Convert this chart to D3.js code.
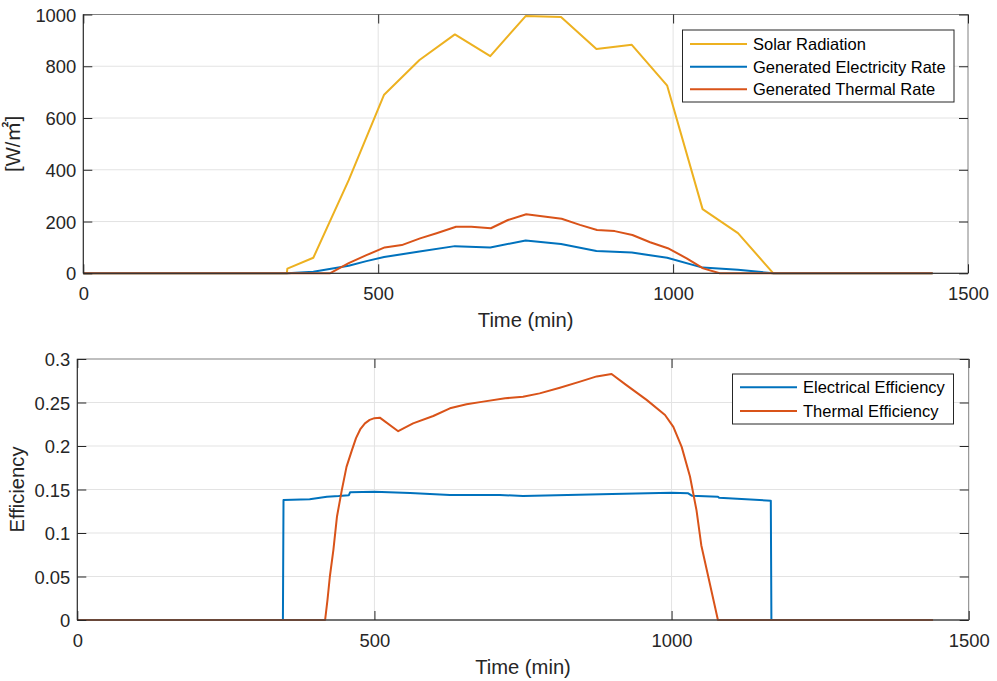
<!DOCTYPE html>
<html>
<head>
<meta charset="utf-8">
<script src="https://cdn.jsdelivr.net/npm/d3@7/dist/d3.min.js"></script>
<style>
  html, body { margin: 0; padding: 0; background: #fff; }
  svg { display: block; font-family: "Liberation Sans", Arial, "Noto Sans CJK SC", sans-serif; }
</style>
</head>
<body>
<svg id="chart" width="997" height="681"></svg>
<script>
// ---------- Data ----------
// Top panel
const solarTime = [0, 345, 346, 390, 450, 510, 570, 630, 690, 750, 810, 870, 930, 990, 1050, 1110, 1170, 1440];
const solarValue = [0, 0, 18, 60, 360, 690, 824, 923, 839, 994, 990, 867, 883, 725, 248, 155, 0, 0];

const elecTime = [0, 346, 390, 420, 450, 480, 510, 570, 630, 690, 750, 810, 870, 930, 990, 1050, 1110, 1170, 1440];
const elecValue = [0, 0, 6, 18, 29, 47, 63, 84, 105, 100, 127, 113, 86, 80, 60, 22, 14, 0, 0];

const thermTime = [0, 418, 450, 480, 511, 540, 571, 599, 632, 658, 691, 720, 751, 811, 842, 871, 901, 931, 961, 991, 1023, 1051, 1079, 1440];
const thermValue = [0, 0, 39, 70, 100, 109, 135, 155, 180, 180, 174, 206, 228, 211, 187, 167, 163, 148, 120, 97, 58, 19, 0, 0];

// Bottom panel
const elecEffTime = [0, 346, 347, 391, 420, 440, 457, 459, 500, 560, 627, 711, 750, 900, 1000, 1028, 1034, 1078, 1080, 1167, 1168, 1440];
const elecEffValue = [0, 0, 0.138, 0.1387, 0.1417, 0.1425, 0.1435, 0.1468, 0.1475, 0.146, 0.1437, 0.1437, 0.1425, 0.1448, 0.1464, 0.1456, 0.1429, 0.1418, 0.1406, 0.1372, 0, 0];

const thermEffTime = [0, 417, 421, 425, 431, 437, 445, 453, 462, 469, 476, 484, 492, 500, 509, 540, 565, 599, 627, 655, 683, 720, 750, 778, 812, 846, 874, 899, 924, 958, 989, 1003, 1017, 1031, 1042, 1050, 1078, 1440];
const thermEffValue = [0, 0, 0.023, 0.050, 0.081, 0.119, 0.149, 0.176, 0.195, 0.209, 0.219, 0.226, 0.230, 0.232, 0.2326, 0.217, 0.226, 0.2345, 0.2433, 0.248, 0.251, 0.2548, 0.2567, 0.2605, 0.267, 0.274, 0.280, 0.2828, 0.270, 0.253, 0.2356, 0.222, 0.199, 0.165, 0.126, 0.086, 0, 0];

const xTicks = [0, 500, 1000, 1500];
const yTicksTop = [0, 200, 400, 600, 800, 1000];
const yTicksBottom = [0, 0.05, 0.1, 0.15, 0.2, 0.25, 0.3];

const topLegend = ["Solar Radiation", "Generated Electricity Rate", "Generated Thermal Rate"];
const bottomLegend = ["Electrical Efficiency", "Thermal Efficiency"];

const C_BLUE = "#0072BD", C_ORANGE = "#D95319", C_YELLOW = "#EDB120";

const zip = (t, v) => t.map((d, i) => [d, v[i]]);

const svg = d3.select("#chart");

function panel(opts) {
  const { left, right, top, bottom, yDomain, yTicks, yFmt, yLabel, yLabelX, series, legend } = opts;
  const x = d3.scaleLinear().domain([0, 1500]).range([left, right]);
  const y = d3.scaleLinear().domain(yDomain).range([bottom, top]);
  const g = svg.append("g");

  // grid
  g.append("g").selectAll("line.gx").data(xTicks.slice(1, -1)).join("line")
    .attr("x1", d => x(d)).attr("x2", d => x(d)).attr("y1", top).attr("y2", bottom)
    .attr("stroke", "#e3e3e3").attr("stroke-width", 1);
  g.append("g").selectAll("line.gy").data(yTicks.slice(1, -1)).join("line")
    .attr("x1", left).attr("x2", right).attr("y1", d => y(d)).attr("y2", d => y(d))
    .attr("stroke", "#e3e3e3").attr("stroke-width", 1);

  // lines
  const line = d3.line().x(d => x(d[0])).y(d => y(d[1]));
  series.forEach(s => {
    g.append("path").datum(s.data).attr("d", line)
      .attr("fill", "none").attr("stroke", s.color).attr("stroke-width", 2)
      .attr("stroke-linejoin", "round");
  });

  // box
  g.append("rect").attr("x", left).attr("y", top).attr("width", right - left).attr("height", bottom - top)
    .attr("fill", "none").attr("stroke", "#808080").attr("stroke-width", 1);
  g.append("line").attr("x1", left).attr("x2", left).attr("y1", top).attr("y2", bottom).attr("stroke", "#262626");
  g.append("line").attr("x1", left).attr("x2", right).attr("y1", bottom).attr("y2", bottom).attr("stroke", "#262626");

  // axes using d3 axis (inner ticks)
  const xAxis = d3.axisBottom(x).tickValues(xTicks).tickSize(-9).tickPadding(0).tickFormat(d3.format("d"));
  const xa = g.append("g").attr("transform", `translate(0,${bottom})`).call(xAxis);
  xa.select(".domain").remove();
  xa.selectAll(".tick line").attr("stroke", "#262626");
  xa.selectAll(".tick text").attr("y", 27).attr("dy", 0).attr("fill", "#262626").attr("font-size", "18.4px")
    .attr("font-family", "Liberation Sans, Arial, sans-serif");
  const xaTop = g.append("g").attr("transform", `translate(0,${top})`).call(d3.axisTop(x).tickValues(xTicks).tickSize(-9).tickFormat(""));
  xaTop.select(".domain").remove();
  xaTop.selectAll(".tick line").attr("stroke", "#262626");

  const yAxis = d3.axisLeft(y).tickValues(yTicks).tickSize(-9).tickPadding(0).tickFormat(yFmt);
  const ya = g.append("g").attr("transform", `translate(${left},0)`).call(yAxis);
  ya.select(".domain").remove();
  ya.selectAll(".tick line").attr("stroke", "#262626");
  ya.selectAll(".tick text").attr("x", -7).attr("dy", "0.36em").attr("fill", "#262626").attr("font-size", "18.4px")
    .attr("font-family", "Liberation Sans, Arial, sans-serif");
  const yaR = g.append("g").attr("transform", `translate(${right},0)`).call(d3.axisRight(y).tickValues(yTicks).tickSize(-9).tickFormat(""));
  yaR.select(".domain").remove();
  yaR.selectAll(".tick line").attr("stroke", "#262626");

  // x label
  g.append("text").attr("x", (left + right) / 2).attr("y", bottom + 54)
    .attr("text-anchor", "middle").attr("font-size", "20.2px").attr("fill", "#262626").text("Time (min)");
  // y label
  g.append("text").attr("transform", `translate(${yLabelX},${(top + bottom) / 2}) rotate(-90)`)
    .attr("text-anchor", "middle").attr("font-size", "20.2px").attr("fill", "#262626").text(yLabel);

  // legend
  const L = legend;
  const lg = g.append("g");
  lg.append("rect").attr("x", L.x0).attr("y", L.y0).attr("width", L.x1 - L.x0).attr("height", L.y1 - L.y0)
    .attr("fill", "#fff").attr("stroke", "#262626").attr("stroke-width", 1);
  L.items.forEach((name, i) => {
    const yy = L.rowY[i];
    lg.append("line").attr("x1", L.lx0).attr("x2", L.lx1).attr("y1", yy).attr("y2", yy)
      .attr("stroke", series[i].color).attr("stroke-width", 2);
    lg.append("text").attr("x", L.tx).attr("y", yy).attr("dy", "0.36em")
      .attr("font-size", "16.5px").attr("fill", "#000").text(name);
  });
}

panel({
  left: 83.3, right: 968, top: 14.5, bottom: 273.3,
  yDomain: [0, 1000], yTicks: yTicksTop, yFmt: d3.format("d"),
  yLabel: "[W/㎡]", yLabelX: 20,
  series: [
    { data: zip(solarTime, solarValue), color: C_YELLOW },
    { data: zip(elecTime, elecValue), color: C_BLUE },
    { data: zip(thermTime, thermValue), color: C_ORANGE }
  ],
  legend: { x0: 682.5, x1: 954, y0: 30, y1: 102, lx0: 690, lx1: 747, tx: 753, rowY: [44, 66.7, 89.3], items: topLegend }
});

panel({
  left: 77.3, right: 968.7, top: 359, bottom: 620,
  yDomain: [0, 0.3], yTicks: yTicksBottom, yFmt: d => d3.format("~g")(d),
  yLabel: "Efficiency", yLabelX: 24,
  series: [
    { data: zip(elecEffTime, elecEffValue), color: C_BLUE },
    { data: zip(thermEffTime, thermEffValue), color: C_ORANGE }
  ],
  legend: { x0: 732.5, x1: 953.5, y0: 374, y1: 424, lx0: 740, lx1: 797, tx: 803, rowY: [387.3, 411], items: bottomLegend }
});
</script>
</body>
</html>
